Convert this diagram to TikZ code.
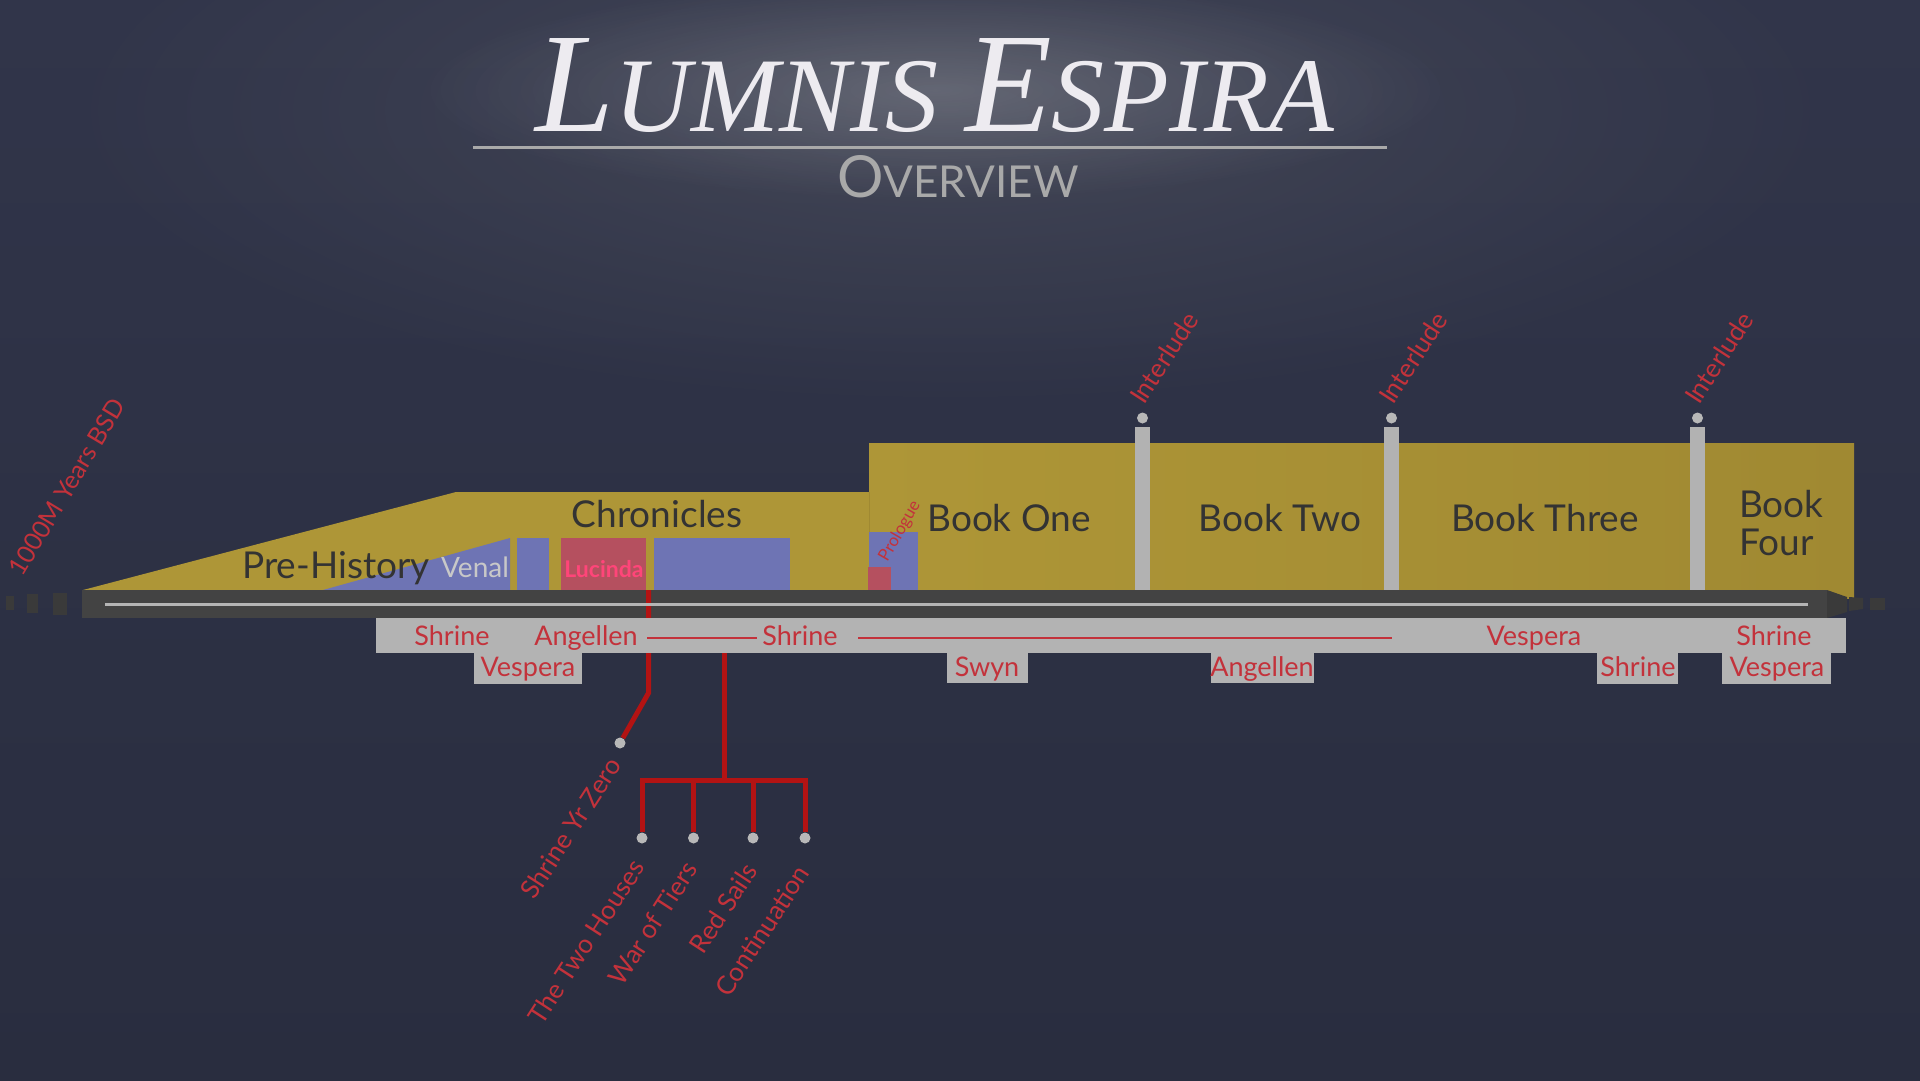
\documentclass[tikz,border=0pt]{standalone}
\usepackage{fontspec}
\setmainfont{Lato}
\newfontfamily\titlefont{Liberation Serif}
\usetikzlibrary{fadings}
\tikzfading[name=glowfade, inner color=transparent!0, outer color=transparent!100]
\definecolor{bgtop}{HTML}{31354A}
\definecolor{bgbot}{HTML}{292D3F}
\definecolor{glowc}{HTML}{50535F}
\definecolor{gold}{HTML}{AE9637}
\definecolor{golddk}{HTML}{A08932}
\definecolor{lav}{HTML}{6E74B4}
\definecolor{rose}{HTML}{B5505F}
\definecolor{barc}{HTML}{434343}
\definecolor{barend}{HTML}{3A3A3A}
\definecolor{band}{HTML}{B3B3B3}
\definecolor{innerc}{HTML}{B5B5B5}
\definecolor{redtxt}{HTML}{C3323B}
\definecolor{redline}{HTML}{B31313}
\definecolor{pill}{HTML}{B2B2B2}
\definecolor{dotc}{HTML}{B8B8B8}
\definecolor{ink}{HTML}{333333}
\definecolor{venalc}{HTML}{C8C8C8}
\definecolor{pinkc}{HTML}{FF4579}
\definecolor{ovgray}{HTML}{A9A9A9}
\definecolor{titlec}{HTML}{EDEBF0}
\newcommand\LETitleText{\titlefont\itshape\fontsize{142}{142}\selectfont L\fontsize{106}{106}\selectfont UMNIS \fontsize{142}{142}\selectfont E\fontsize{106}{106}\selectfont SPIRA}
\begin{document}
\begin{tikzpicture}[x=1pt,y=-1pt,
  lbl/.style={text=ink,font=\fontsize{37}{40}\selectfont,inner sep=0pt,anchor=base},
  rlab/.style={text=redtxt,font=\fontsize{27}{30}\selectfont,inner sep=0pt,anchor=base},
  rot/.style={text=redtxt,font=\fontsize{26}{28}\selectfont,inner sep=0pt,rotate=57},
  tree/.style={draw=redline,line width=5pt},
  dot/.style={circle,fill=dotc,minimum size=11pt,inner sep=0pt},
  tabbox/.style={fill=band},
  titlest/.style={anchor=base,inner sep=0pt}
]
\useasboundingbox (0,0) rectangle (1920,1080);
% background
\shade[top color=bgtop,bottom color=bgbot] (0,0) rectangle (1920,1080);
\fill[glowc,path fading=glowfade,fill opacity=0.6] (950,110) ellipse (900 and 300);
\fill[white,path fading=glowfade,fill opacity=0.18] (935,90) ellipse (520 and 110);

% title
\node[titlest,text=titlec] (title) at (935,131) {\LETitleText};
\draw[ovgray,line width=3pt] (473,147) -- (1387,147);
\node[titlest,text=ovgray] (overview) at (958,197) {\fontsize{58}{58}\selectfont O\fontsize{44}{44}\selectfont VERVIEW};

% gold regions
\fill[gold] (83,590) -- (456,492) -- (869,492) -- (869,598) -- (83,598) -- cycle;
\shade[left color=gold,right color=golddk] (869,443) rectangle (1854,598);
\draw[golddk,line width=1pt] (869,492) -- (869,590);

% lavender / rose blocks
\fill[lav] (323,590) -- (510,538) -- (510,590) -- cycle;
\fill[lav] (517,538) rectangle (549,590);
\fill[rose] (561,538) rectangle (646,590);
\fill[lav] (654,538) rectangle (790,590);
\fill[lav] (869,532) rectangle (918,590);
\fill[rose] (868,567) rectangle (891,590);

% interlude pillars
\fill[pill] (1135,427) rectangle (1150,590);
\fill[pill] (1384,427) rectangle (1399,590);
\fill[pill] (1690,427) rectangle (1705,590);
\node[dot] (i1) at (1142.5,418) {};
\node[dot] (i2) at (1391.5,418) {};
\node[dot] (i3) at (1697.5,418) {};

% timeline bar
\fill[barc] (82,590) rectangle (1827,618);
\fill[barend] (1827,590) -- (1847,597) -- (1847,612) -- (1827,618) -- cycle;
\fill[barend] (1849,597) -- (1863,598) -- (1863,609) -- (1849,611) -- cycle;
\fill[barend] (1870,598) rectangle (1885,610);
\fill[barend] (6,596) rectangle (14,610);
\fill[barend] (27,594) rectangle (38,613);
\fill[barend] (53,593) rectangle (67,615);

% Lucinda branch
\coordinate (lt) at (648.5,590);
\coordinate (lm) at (648.5,693);
\node[dot] (d0) at (620,743) {};
\draw[tree] (lt) -- (lm) -- (d0);

\draw[innerc,line width=3pt] (105,604.5) -- (1808,604.5);

% band with tabs
\fill[band] (376,618) rectangle (1846,653);
\fill[tabbox] (474,652) rectangle (582,684);
\fill[tabbox] (947,652) rectangle (1028,683);
\fill[tabbox] (1211,652) rectangle (1314,683);
\fill[tabbox] (1597,652) rectangle (1678,684);
\fill[tabbox] (1722,652) rectangle (1831,684);

% band texts
\node[rlab] (s1) at (452,645) {Shrine};
\node[rlab] (a1) at (586,645) {Angellen};
\node[rlab] (s2) at (800,645) {Shrine};
\node[rlab] (v1) at (1534,645) {Vespera};
\node[rlab] (s3) at (1774,645) {Shrine};
\node[rlab] (v2) at (528,676) {Vespera};
\node[rlab] (sw) at (987,676) {Swyn};
\node[rlab] (a2) at (1262,676) {Angellen};
\node[rlab] (s4) at (1638,676) {Shrine};
\node[rlab] (v3) at (1777,676) {Vespera};
\coordinate (r1a) at (647,638);
\coordinate (r1b) at (757,638);
\coordinate (r2a) at (858,638);
\coordinate (r2b) at (1392,638);
\draw[redtxt,line width=2.2pt] (r1a) -- (r1b);
\draw[redtxt,line width=2.2pt] (r2a) -- (r2b);

% second branch
\coordinate (t0) at (724,653);
\coordinate (t1) at (724,780);
\coordinate (h0) at (639.5,780);
\coordinate (h1) at (807.5,780);
\coordinate (b1) at (642,780);
\coordinate (b2) at (693.5,780);
\coordinate (b3) at (753,780);
\coordinate (b4) at (805,780);
\node[dot] (d1) at (642,838) {};
\node[dot] (d2) at (693.5,838) {};
\node[dot] (d3) at (753,838) {};
\node[dot] (d4) at (805,838) {};
\draw[tree] (t0) -- (t1);
\draw[tree] (h0) -- (h1);
\draw[tree] (b1) -- (d1);
\draw[tree] (b2) -- (d2);
\draw[tree] (b3) -- (d3);
\draw[tree] (b4) -- (d4);

% gold labels
\node[lbl] (ph) at (336,578) {Pre-History};
\node[lbl] (chr) at (657,527) {Chronicles};
\node[lbl] (b1l) at (1009,531) {Book One};
\node[lbl] (b2l) at (1280,531) {Book Two};
\node[lbl] (b3l) at (1545,531) {Book Three};
\node[lbl,anchor=base west] (b4l) at (1739,517) {Book};
\node[lbl,anchor=base west] (b4m) at (1739,555) {Four};
\node[anchor=base,inner sep=0pt,text=venalc,font=\fontsize{28}{30}\selectfont] (venal) at (475,577) {Venal};
\node[anchor=base,inner sep=0pt,text=pinkc,font=\bfseries\fontsize{23}{25}\selectfont] (luc) at (604,577) {Lucinda};
\node[inner sep=0pt,text=redtxt,font=\fontsize{17}{18}\selectfont,rotate=60] (pro) at (900,531) {Prologue};

% rotated labels
\node[rot,anchor=west] (il1) at (1136,401) {Interlude};
\node[rot,anchor=west] (il2) at (1385,401) {Interlude};
\node[rot,anchor=west] (il3) at (1691,401) {Interlude};
\node[rot,font=\fontsize{25}{27}\selectfont,rotate=2] (bsd) at (67,487) {1000M Years BSD};
\node[rot,anchor=east] (syz) at (615,760) {Shrine Yr Zero};
\node[rot,anchor=east] (tth) at (638,862) {The Two Houses};
\node[rot,anchor=east] (wot) at (691,864) {War of Tiers};
\node[rot,anchor=east] (rs) at (751,866) {Red Sails};
\node[rot,anchor=east] (con) at (803,868) {Continuation};
\end{tikzpicture}
\end{document}
